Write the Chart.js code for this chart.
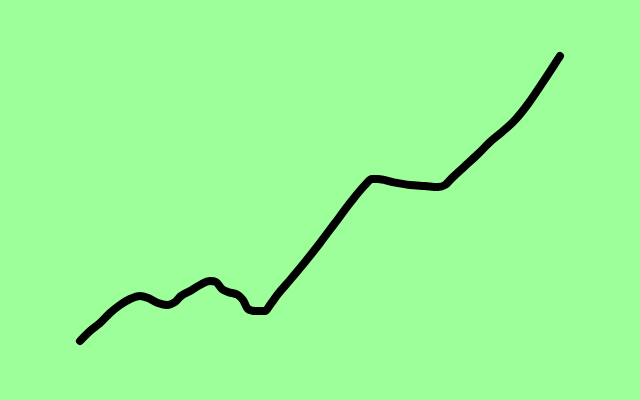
<!DOCTYPE html>
<html>
<head>
<meta charset="utf-8">
<script src="https://cdn.jsdelivr.net/npm/chart.js@4/dist/chart.umd.min.js"></script>
<style>
  html, body { margin: 0; padding: 0; background: #9cff9a; }
  #lineChart { display: block; }
</style>
</head>
<body>
<canvas id="lineChart" width="640" height="400"></canvas>
<script>
// values (x across, y upwards)
const xValues = [80, 90, 100, 110, 120, 130, 140, 148, 158, 167, 175, 181, 190, 200, 210, 216, 222, 228, 238, 243, 248, 256, 265, 270, 278, 290, 305, 320, 335, 350, 365, 372, 378, 392, 410, 425, 438, 445, 452, 465, 478, 490, 502, 515, 528, 543, 560];
const yValues = [59, 69, 77, 87, 95, 101, 104, 102, 97, 95, 98, 104, 109, 115, 119, 118, 111, 108, 105, 100, 91, 89, 89, 95, 106, 120, 138, 157, 177, 197, 215, 221, 221, 218, 215, 214, 213, 215, 222, 234, 246, 258, 268, 280, 296, 318, 344];

const points = xValues.map(function (x, i) {
  return { x: x, y: yValues[i] };
});

const ctx = document.getElementById("lineChart").getContext("2d");
const lineChart = new Chart(ctx, {
  type: "line",
  data: {
    datasets: [{
      data: points,
      borderColor: "#000000",
      borderWidth: 8,
      borderCapStyle: "round",
      borderJoinStyle: "round",
      pointRadius: 0,
      tension: 0.4,
      cubicInterpolationMode: "monotone",
      fill: false,
      clip: false,
    }],
  },
  options: {
    responsive: false,
    animation: false,
    layout: { padding: 0 },
    plugins: { legend: { display: false }, tooltip: { enabled: false } },
    scales: {
      x: { type: "linear", min: 0, max: 640, display: false },
      y: { type: "linear", min: 0, max: 400, display: false },
    },
  },
});
</script>
</body>
</html>
